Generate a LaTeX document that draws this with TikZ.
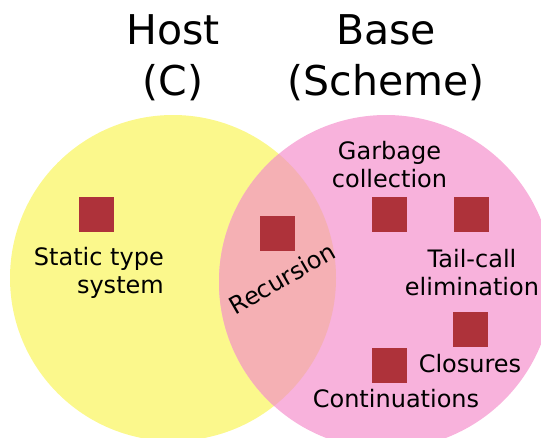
\documentclass[tikz,border=0pt]{standalone}
\usepackage{fontspec}
\setmainfont{DejaVu Sans}
\definecolor{hostyellow}{RGB}{251,248,140}
\definecolor{basepink}{RGB}{248,178,220}
\definecolor{sharedzone}{RGB}{245,176,180}
\definecolor{featurered}{RGB}{174,50,58}
\tikzset{
  feat/.style={fill=featurered, draw=none, minimum size=35pt, inner sep=0pt},
  lbl/.style={font=\fontsize{24}{28}\selectfont, inner sep=0pt},
  heading/.style={font=\fontsize{41}{51}\selectfont, inner sep=0pt, align=center, anchor=base}
}
\begin{document}
\begin{tikzpicture}[x=1pt,y=-1pt]
\useasboundingbox (0,0) rectangle (541,437);

% the two language circles and their overlap
\begin{scope}
  \clip (0,0) rectangle (541,437);
  \fill[hostyellow] (173,278) circle (163pt);
  \fill[basepink] (386,282) circle (167pt);
  \begin{scope}
    \clip (173,278) circle (163pt);
    \fill[sharedzone] (386,282) circle (167pt);
  \end{scope}
\end{scope}

% headings (base anchor sits on the last line)
\node[heading] (host) at (173,95) {Host\\(C)};
\node[heading] (base) at (386,95) {Base\\(Scheme)};

% feature markers
\node[feat] (sqstatic) at (96.5,214) {};
\node[feat] (sqrec)    at (277.5,233) {};
\node[feat] (sqgc)     at (389.5,214) {};
\node[feat] (sqtail)   at (471.5,214) {};
\node[feat] (sqclos)   at (470.5,329) {};
\node[feat] (sqcont)   at (389.5,365) {};

% feature labels
\node[lbl, align=right, anchor=base east] (static) at (164,293) {Static type\\system};
\node[lbl, anchor=base, rotate=30] (rec) at (286.5,286) {Recursion};
\node[lbl, align=center, anchor=base] (gc) at (389.5,187) {Garbage\\collection};
\node[lbl, align=center, anchor=base] (tail) at (472,295) {Tail-call\\elimination};
\node[lbl, anchor=base] (clos) at (470,372) {Closures};
\node[lbl, anchor=base] (cont) at (396,407) {Continuations};
\end{tikzpicture}
\end{document}
